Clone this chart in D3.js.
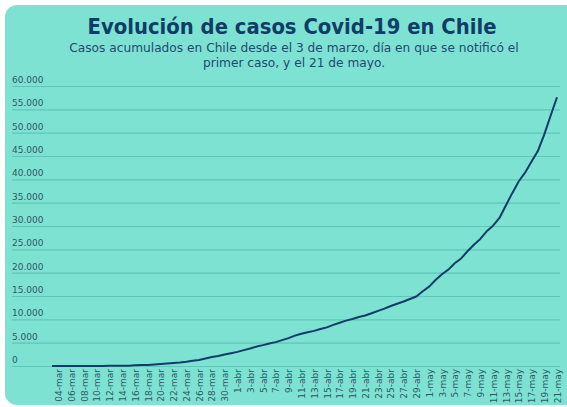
<!DOCTYPE html>
<html>
<head>
<meta charset="utf-8">
<script src="https://cdn.jsdelivr.net/npm/d3@7"></script>
<style>
html,body{margin:0;padding:0;background:#fff;}
svg{display:block;}
</style>
</head>
<body>
<svg id="chart" width="567" height="407"></svg>
<script>
const title = "Evolución de casos Covid-19 en Chile";
const subtitle1 = "Casos acumulados en Chile desde el 3 de marzo, día en que se notificó el";
const subtitle2 = "primer caso, y el 21 de mayo.";

// dates: 3 March to 21 May (day, month)
const dates = [];
for (let d = 3; d <= 31; d++) dates.push({d: d, m: "mar"});
for (let d = 1; d <= 30; d++) dates.push({d: d, m: "abr"});
for (let d = 1; d <= 21; d++) dates.push({d: d, m: "may"});

const cases = [
  1, 3, 4, 5, 7, 10, 13, 17, 23, 33, 43, 61, 75, 156, 201, 238, 342, 434, 537, 632,
  746, 922, 1142, 1306, 1610, 1909, 2139, 2449, 2738,
  3031, 3404, 3737, 4161, 4471, 4815, 5116, 5546, 5972, 6501, 6927, 7213, 7525, 7917, 8273,
  8807, 9252, 9730, 10088, 10505, 10832, 11296, 11812, 12306, 12858, 13331, 13813, 14365, 14885, 16023,
  17008, 18435, 19663, 20643, 22016, 23048, 24581, 25972, 27219, 28866, 30063, 31721, 34381, 37040,
  39542, 41428, 43781, 46059, 49579, 53617, 57581
];

const yTicks = [0, 5000, 10000, 15000, 20000, 25000, 30000, 35000, 40000, 45000, 50000, 55000, 60000];

const labelOf = (o) => (o.m === "mar" ? String(o.d).padStart(2, "0") : String(o.d)) + "-" + o.m;
const categories = dates.map(labelOf);
const tickLabels = categories.filter((c, i) => i % 2 === 1);

const svg = d3.select("#chart");
const W = 567, H = 407;

// card
svg.append("rect").attr("x", 5).attr("y", 5).attr("width", W + 20).attr("height", 400)
  .attr("rx", 12).attr("fill", "#7de2d2");

svg.append("text").attr("x", 292).attr("y", 34).attr("text-anchor", "middle")
  .attr("font-family", "DejaVu Sans").attr("font-weight", "bold").attr("font-size", 21)
  .attr("textLength", 409).attr("lengthAdjust", "spacingAndGlyphs")
  .attr("fill", "#0f3d68").text(title);
svg.append("text").attr("x", 294).attr("y", 52).attr("text-anchor", "middle")
  .attr("font-family", "DejaVu Sans").attr("font-size", 12.2)
  .attr("fill", "#1d4a70").text(subtitle1);
svg.append("text").attr("x", 294).attr("y", 67).attr("text-anchor", "middle")
  .attr("font-family", "DejaVu Sans").attr("font-size", 12.2)
  .attr("fill", "#1d4a70").text(subtitle2);

const x = d3.scalePoint().domain(categories).range([52, 557]);
const y = d3.scaleLinear().domain([0, 60000]).range([366, 86]);

const loc = d3.formatLocale({decimal: ",", thousands: ".", grouping: [3], currency: ["$", ""]});
const fmt = loc.format(",d");

// grid + y labels
const yAxis = d3.axisLeft(y).tickValues(yTicks).tickSize(-548).tickFormat(fmt);
const gy = svg.append("g").attr("transform", "translate(12,0)").call(yAxis);
gy.select(".domain").remove();
gy.selectAll(".tick line").attr("stroke", "#5fc6b8").attr("stroke-width", 1.2);
gy.selectAll(".tick text").attr("x", 0).attr("dy", -3.5).attr("text-anchor", "start")
  .attr("font-family", "DejaVu Sans").attr("font-size", 9).attr("fill", "#2f5866");

// x axis labels
const xAxis = d3.axisBottom(x).tickValues(tickLabels).tickSize(0);
const gx = svg.append("g").attr("transform", "translate(0,366)").call(xAxis);
gx.select(".domain").remove();
gx.selectAll(".tick text")
  .attr("transform", "rotate(-90)")
  .attr("x", -3).attr("y", 0).attr("dy", "0.35em")
  .attr("text-anchor", "end")
  .attr("font-family", "DejaVu Sans").attr("font-size", 9).attr("fill", "#2f5866");

// line
const line = d3.line().x((d, i) => x(categories[i])).y(d => y(d));
svg.append("path").datum(cases).attr("d", line)
  .attr("fill", "none").attr("stroke", "#0f3d68").attr("stroke-width", 2)
  .attr("stroke-linejoin", "round");
</script>
</body>
</html>
